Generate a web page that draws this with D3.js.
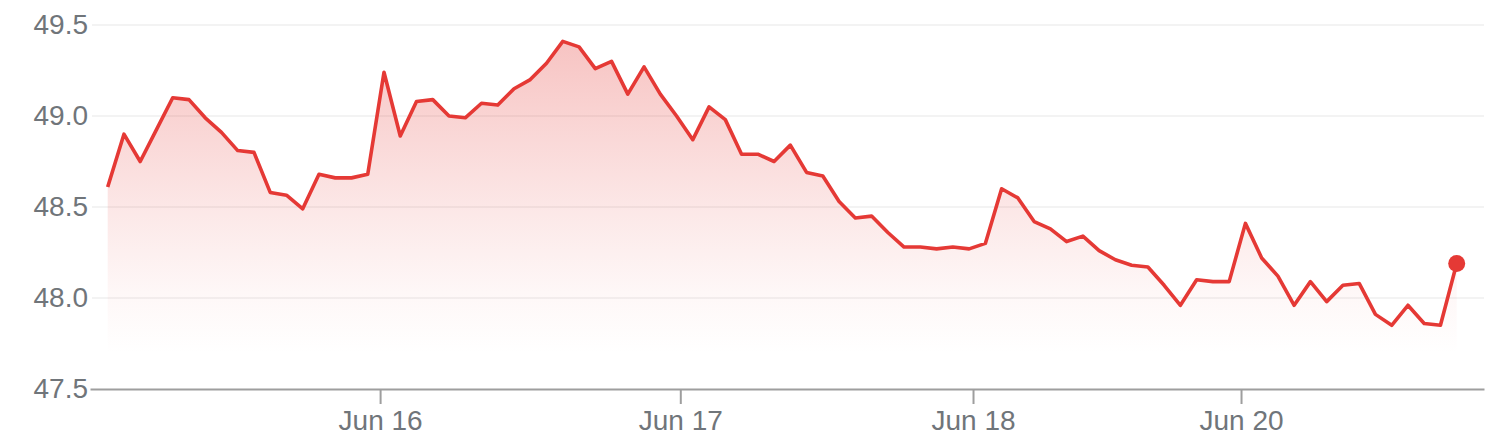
<!DOCTYPE html>
<html>
<head>
<meta charset="utf-8">
<script src="https://cdn.jsdelivr.net/npm/d3@7"></script>
<style>
  html, body { margin: 0; padding: 0; background: #ffffff; }
  svg { display: block; }
  text { font-family: "Liberation Sans", Arial, sans-serif; }
</style>
</head>
<body>
<div id="chart"></div>
<script>
// Price series (evenly spaced intraday samples)
const prices = [
  48.61, 48.90, 48.75, 48.925, 49.10, 49.09, 48.99, 48.91, 48.81, 48.80,
  48.58, 48.565, 48.49, 48.68, 48.66, 48.66, 48.68, 49.24, 48.89, 49.08,
  49.09, 49.00, 48.99, 49.07, 49.06, 49.15, 49.20, 49.29, 49.41, 49.38,
  49.26, 49.30, 49.12, 49.27, 49.12, 49.00, 48.87, 49.05, 48.98, 48.79,
  48.79, 48.75, 48.84, 48.69, 48.67, 48.53, 48.44, 48.45, 48.36, 48.28,
  48.28, 48.27, 48.28, 48.27, 48.30, 48.60, 48.55, 48.42, 48.38, 48.31,
  48.34, 48.26, 48.21, 48.18, 48.17, 48.07, 47.96, 48.10, 48.09, 48.09,
  48.41, 48.22, 48.12, 47.96, 48.09, 47.98, 48.07, 48.08, 47.91, 47.85,
  47.96, 47.86, 47.85, 48.19
];
// Day boundaries in sample-index units, and their labels
const xTickPositions = [16.76, 35.23, 53.24, 69.73];
const xTickLabels = ["Jun 16", "Jun 17", "Jun 18", "Jun 20"];
// Y axis ticks
const yTicks = [47.5, 48.0, 48.5, 49.0, 49.5];

const W = 1500, H = 448;
const red = "#e53935";
const grey = "#70757a";

const svg = d3.select("#chart").append("svg")
  .attr("width", W).attr("height", H);

const x = d3.scaleLinear().domain([0, prices.length - 1]).range([107.7, 1456.7]);
const y = d3.scaleLinear().domain([47.5, 49.5]).range([389, 25]);
const xAxisScale = x.copy().domain([x.invert(90), x.invert(1484)]).range([90, 1484]);

// gradient
const defs = svg.append("defs");
const grad = defs.append("linearGradient")
  .attr("id", "areaGrad")
  .attr("gradientUnits", "userSpaceOnUse")
  .attr("x1", 0).attr("x2", 0)
  .attr("y1", y(49.41)).attr("y2", y(47.5));
[[0, 0.30], [0.48, 0.12], [0.72, 0.04], [0.9, 0.0], [1, 0.0]].forEach(([o, a]) => {
  grad.append("stop").attr("offset", o).attr("stop-color", red).attr("stop-opacity", a);
});

// gridlines
svg.append("g").selectAll("line")
  .data(yTicks.filter(d => d > 47.5))
  .join("line")
  .attr("x1", 92).attr("x2", 1484)
  .attr("y1", d => y(d)).attr("y2", d => y(d))
  .attr("stroke", "#efefef").attr("stroke-width", 1.5);

// y labels
const yAxis = svg.append("g")
  .attr("transform", "translate(90,0)")
  .call(d3.axisLeft(y).tickValues(yTicks).tickFormat(d3.format(".1f")).tickSize(0).tickPadding(2));
yAxis.select(".domain").remove();
yAxis.selectAll("text")
  .attr("fill", grey)
  .style("font-size", "28px")
  .style("font-family", "'Liberation Sans', Arial, sans-serif");

// area
const area = d3.area()
  .x((d, i) => x(i))
  .y0(y(47.5))
  .y1(d => y(d));
svg.append("path")
  .datum(prices)
  .attr("d", area)
  .attr("fill", "url(#areaGrad)");

// x axis
const xAxis = svg.append("g")
  .attr("transform", `translate(0,${y(47.5)})`)
  .call(d3.axisBottom(xAxisScale)
    .tickValues(xTickPositions)
    .tickFormat((d, i) => xTickLabels[i])
    .tickSizeInner(15)
    .tickSizeOuter(0)
    .tickPadding(6));
xAxis.select(".domain").attr("stroke", "#9e9e9e").attr("stroke-width", 2.2);
xAxis.selectAll(".tick line").attr("stroke", "#9e9e9e").attr("stroke-width", 2);
xAxis.selectAll("text")
  .attr("fill", grey)
  .style("font-size", "28px")
  .style("font-family", "'Liberation Sans', Arial, sans-serif");

// line
const line = d3.line()
  .x((d, i) => x(i))
  .y(d => y(d));
svg.append("path")
  .datum(prices)
  .attr("d", line)
  .attr("fill", "none")
  .attr("stroke", red)
  .attr("stroke-width", 3.6)
  .attr("stroke-linejoin", "round");

// end dot
svg.append("circle")
  .attr("cx", x(prices.length - 1))
  .attr("cy", y(prices[prices.length - 1]))
  .attr("r", 8.5)
  .attr("fill", red);
</script>
</body>
</html>
